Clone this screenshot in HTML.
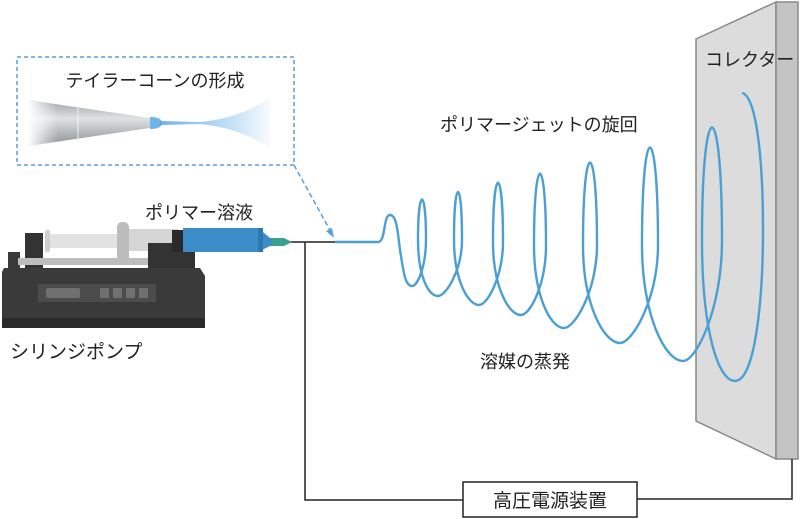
<!DOCTYPE html>
<html><head><meta charset="utf-8"><style>
html,body{margin:0;padding:0;background:#fff;}
svg{display:block}
text{font-family:"Liberation Sans","Noto Sans CJK JP",sans-serif;fill:#222;}
</style></head><body>
<svg width="800" height="519" viewBox="0 0 800 519" xmlns="http://www.w3.org/2000/svg">
<defs>
<linearGradient id="cone" x1="0" x2="1"><stop offset="0" stop-color="#5aa8e6" stop-opacity="0.9"/><stop offset="1" stop-color="#5aa8e6" stop-opacity="0.05"/></linearGradient>
<linearGradient id="ndl" x1="0" y1="0" x2="0" y2="1"><stop offset="0" stop-color="#9aa0a4"/><stop offset="0.4" stop-color="#dfe2e4"/><stop offset="1" stop-color="#8a9094"/></linearGradient>
<linearGradient id="ndlf" x1="0" x2="1"><stop offset="0" stop-color="#fff" stop-opacity="1"/><stop offset="0.25" stop-color="#fff" stop-opacity="0"/></linearGradient>
</defs>
<!-- collector -->
<polygon points="696,39 776,2 776,459 696,421" fill="#dcdcdc" stroke="#8a8a8a" stroke-width="1.5"/>
<rect x="776" y="2" width="22" height="457" fill="#c4c4c4" stroke="#8a8a8a" stroke-width="1.5"/>
<text x="705" y="66" font-size="18">コレクター</text>
<!-- wires -->
<path d="M290,242 H335 M305,242 V500 H463 M637,499 H792 V459" fill="none" stroke="#222" stroke-width="1.5"/>
<rect x="463" y="482" width="174" height="35" fill="#fff" stroke="#222" stroke-width="1.5"/>
<text x="550" y="507" font-size="19" text-anchor="middle">高圧電源装置</text>
<!-- jet -->
<path fill="none" stroke="#4a9fd4" stroke-width="2.4" d="
M335,242 L378,242 C386,242 383,215 390,215 C398,215 398,240 401,256 C404,276 406,286 412,286
C418,286 426,265 426,240 C426,186 418,186 418,240
C418,275 428,296 438,296
C446,296 462,270 462,240 C462,176 454,176 454,240
C454,280 468,305 479,305
C488,305 503,275 503,242 C503,163 493,163 493,242
C493,285 508,315 521,315
C530,315 546,285 546,245 C546,150 534,150 534,245
C534,295 550,328 564,328
C575,328 597,290 597,245 C597,135 583,135 583,245
C583,305 604,343 620,343
C632,343 658,300 658,245 C658,115 642,115 642,245
C642,315 665,361 683,361
C696,361 722,310 722,240 C722,90 702,90 702,240
C702,330 718,381 735,381
C755,381 763,300 763,230 C763,150 755,95 742,93"/>
<text x="440" y="131" font-size="18">ポリマージェットの旋回</text>
<text x="480" y="368" font-size="18">溶媒の蒸発</text>
<!-- inset -->
<rect x="17" y="57" width="277" height="108" fill="#fff" stroke="#5a9fd8" stroke-width="1.5" stroke-dasharray="4,3"/>
<text x="155" y="87" font-size="18" text-anchor="middle">テイラーコーンの形成</text>
<polygon points="28,100 150,118 150,128 28,146" fill="url(#ndl)"/>
<polygon points="28,100 150,118 150,128 28,146" fill="url(#ndlf)"/>
<line x1="78" y1="106" x2="78" y2="141" stroke="#f0f0f0" stroke-width="1"/>
<path d="M150,117 Q162,117 162,123 Q162,129 150,129 Z" fill="#6fb4ea"/>
<path d="M160,121 L200,122 Q240,118 270,98 L270,148 Q240,128 200,124 L160,125 Z" fill="url(#cone)"/>
<line x1="294" y1="165" x2="331" y2="232" stroke="#5a9fd8" stroke-width="1.5" stroke-dasharray="5,3"/>
<polygon points="334,238 326,231 332,228" fill="#5a9fd8"/>
<!-- pump -->
<rect x="8" y="252" width="12" height="18" fill="#3a3a3a"/>
<rect x="25" y="233" width="18" height="36" fill="#333"/>
<rect x="18" y="258" width="132" height="7" fill="#bdbdbd"/>
<rect x="45" y="234" width="75" height="14" rx="3" fill="#e2e2e2"/>
<rect x="45" y="230" width="5" height="22" rx="2" fill="#cfcfcf"/>
<rect x="118" y="229" width="60" height="22" fill="#d6d6d6"/>
<rect x="117" y="222" width="12" height="40" rx="5" fill="#bcbcbc"/>
<rect x="148" y="243" width="47" height="26" fill="#333"/>
<rect x="172" y="230" width="14" height="22" fill="#2a2a2a"/>
<polygon points="183,228 258,228 270,238 270,246 258,252 183,252" fill="#3c8cc8"/>
<rect x="258" y="228" width="5" height="24" fill="#2e78b0"/>
<rect x="265" y="238" width="8" height="8" fill="#3c8cc8"/>
<polygon points="272,238 284,238 292,242 284,246 272,246" fill="#3aa090"/>
<polygon points="4,268 200,268 205,276 205,328 8,328 2,318 2,272" fill="#3a3a3a"/>
<rect x="2" y="318" width="203" height="10" fill="#2a2a2a"/>
<rect x="38" y="284" width="118" height="18" fill="#4c4c4c"/>
<rect x="46" y="288" width="34" height="10" rx="2" fill="#707070"/>
<rect x="100" y="288" width="9" height="10" fill="#707070"/>
<rect x="113" y="288" width="9" height="10" fill="#707070"/>
<rect x="126" y="288" width="9" height="10" fill="#707070"/>
<rect x="139" y="288" width="9" height="10" fill="#707070"/>
<text x="145" y="219" font-size="18">ポリマー溶液</text>
<text x="10" y="358" font-size="19">シリンジポンプ</text>
</svg>
</body></html>
